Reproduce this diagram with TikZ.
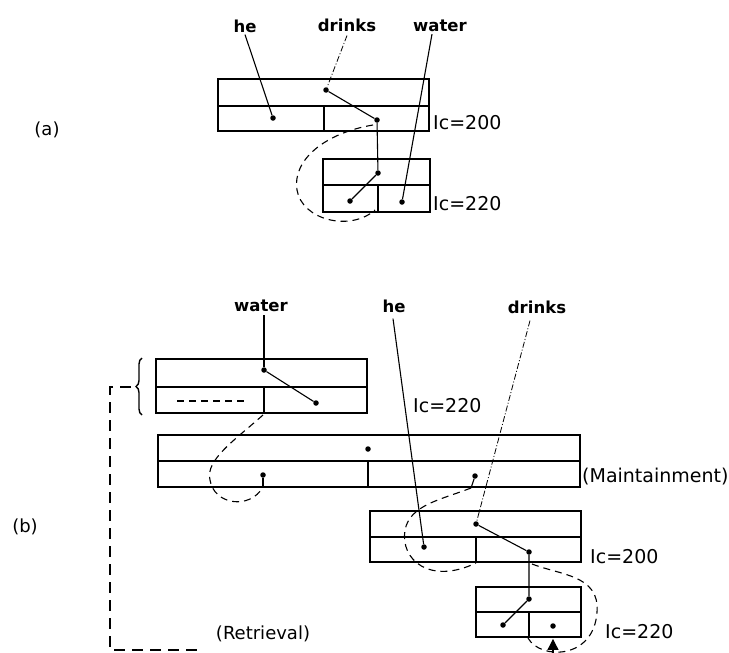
\documentclass[tikz,border=0pt]{standalone}
\usepackage{fontspec}
\setmainfont{DejaVu Sans}
\usetikzlibrary{decorations.pathreplacing,arrows.meta}
\begin{document}
\begin{tikzpicture}[x=1pt,y=-1pt,
  boxline/.style={line width=1.8pt},
  link/.style={line width=1.1pt},
  faint/.style={line width=0.8pt, dash pattern=on 6pt off 2pt on 1pt off 2pt},
  loopline/.style={line width=1.1pt, dash pattern=on 7pt off 5pt},
  retline/.style={line width=1.2pt, dash pattern=on 11pt off 7pt},
  dot/.style={circle, fill, inner sep=0pt, minimum size=5.5pt},
  word/.style={font=\fontsize{16.5}{18}\selectfont\bfseries, inner sep=0pt},
  tag/.style={font=\fontsize{19}{21}\selectfont, inner sep=0pt, anchor=west},
  part/.style={font=\fontsize{18}{20}\selectfont, inner sep=0pt},
]
\useasboundingbox (0,0) rectangle (729,653);

% ---------------- (a) ----------------
\node[part] (la) at (47,130) {(a)};
\draw[boxline] (218,79) rectangle (429,131) (218,106) -- (429,106) (324,106) -- (324,131);
\draw[boxline] (323,159) rectangle (430,212) (323,185) -- (430,185) (378,185) -- (378,212);

\node[word] (ahe) at (245,26) {he};
\node[word] (adr) at (347,25) {drinks};
\node[word] (awa) at (440,26) {water};

\node[dot] (a1) at (273,118) {};
\node[dot] (a2) at (326,90) {};
\node[dot] (a3) at (377,120) {};
\node[dot] (a4) at (378,173) {};
\node[dot] (a5) at (350,201) {};
\node[dot] (a6) at (402,202) {};

\draw[link] ([yshift=-2pt]ahe.south) -- (a1);
\draw[faint] ([yshift=-4pt]adr.south) -- (a2);
\draw[link] ([xshift=-8pt,yshift=-2pt]awa.south) -- (a6);
\draw[link] (a2) -- (a3) -- (a4) -- (a5);
\coordinate (a7) at (375,210);
\draw[loopline] ([shift={(-4,5)}]a3.center) .. controls (325,133) and (292,160) .. (297,190)
   .. controls (302,220) and (350,232) .. (a7);

\node[tag] (ic1) at (433,123) {Ic=200};
\node[tag] (ic2) at (433,204) {Ic=220};

% ---------------- (b) ----------------
\node[part] (lb) at (25,527) {(b)};

% box 1
\draw[boxline] (156,359) rectangle (367,413) (156,387) -- (367,387) (264,387) -- (264,413);
\draw[loopline] (177,401) -- (247,401);
\draw[line width=1.4pt, decorate, decoration={brace, amplitude=6pt}] (142,415) -- (142,358);
\coordinate (r0) at (131,387);
\coordinate (r1) at (110,387);
\coordinate (r2) at (110,650);
\coordinate (r3) at (200,650);
\draw[retline] (r0) -- (r1) -- (r2) -- (r3);

% box 2
\draw[boxline] (158,435) rectangle (580,487) (158,461) -- (580,461) (368,461) -- (368,487);
% box 3
\draw[boxline] (370,511) rectangle (581,562) (370,537) -- (581,537) (476,537) -- (476,562);
% box 4
\draw[boxline] (476,587) rectangle (581,637) (476,612) -- (581,612) (529,612) -- (529,637);

\node[word] (bw) at (261,306) {water};
\node[word] (bh) at (394,306) {he};
\node[word] (bd) at (537,307) {drinks};

\node[dot] (b1) at (264,370) {};
\node[dot] (b2) at (316,403) {};
\node[dot] (b3) at (368,449) {};
\node[dot] (b4) at (263,475) {};
\node[dot] (b5) at (475,476) {};
\node[dot] (b6) at (424,547) {};
\node[dot] (b7) at (476,524) {};
\node[dot] (b8) at (529,552) {};
\node[dot] (b9) at (529,599) {};
\node[dot] (b10) at (503,625) {};
\node[dot] (b11) at (553,626) {};

\coordinate (b4e) at (263,487);
\coordinate (b5e) at (471,488);
\draw[link] (b4) -- (b4e);
\draw[link] (b5) -- (b5e);

\draw[link] (b1 |- bw.south) ++(0,3) -- (b1);
\draw[link] (b1) -- (b2);
\draw[link] ([xshift=-1pt,yshift=-6pt]bh.south) -- (b6);
\draw[faint] ([xshift=-7pt,yshift=-7pt]bd.south) -- (b7);
\draw[link] (b7) -- (b8) -- (b9) -- (b10);

% dashed loops
\draw[loopline] (263,415) .. controls (235,440) and (205,460) .. (210,480)
   .. controls (214,505) and (250,510) .. (b4e);
\draw[loopline] (b5e) .. controls (440,500) and (410,505) .. (405,530)
   .. controls (400,560) and (430,585) .. (476,563);
\draw[loopline] (532,564) .. controls (560,575) and (600,575) .. (597,612)
   .. controls (594,660) and (540,660) .. (528,638);

\coordinate (ar) at (553,655);
\draw[line width=1.1pt, -{Triangle[length=11pt,width=11pt]}, shorten >=10pt] (ar) -- (b11);

\node[tag] (ic3) at (413,406) {Ic=220};
\node[tag] (ic4) at (590,557) {Ic=200};
\node[tag] (ic5) at (605,632) {Ic=220};
\node[tag] (mt) at (582,477) {(Maintainment)};
\node[part] (rt) at (263,634) {(Retrieval)};
\end{tikzpicture}
\end{document}
